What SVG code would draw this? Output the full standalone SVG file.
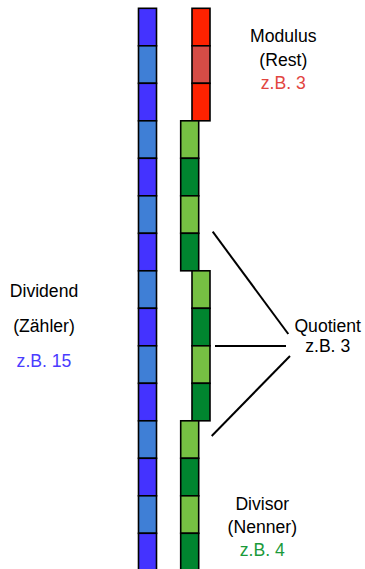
<svg xmlns="http://www.w3.org/2000/svg" width="365" height="569" viewBox="0 0 365 569">
<style>
.c{stroke:#000;stroke-width:1.6}
.b1{fill:#4433ff}.b2{fill:#3f7fd6}
.r1{fill:#ff2200}.r2{fill:#d64c46}
.g1{fill:#76c043}.g2{fill:#00852f}
text{font-family:"Liberation Sans",Arial,sans-serif;font-size:17.6px;text-anchor:middle;fill:#000}
.ln{stroke:#000;stroke-width:2;fill:none}
</style>
<rect width="365" height="569" fill="#fff"/>
<g id="dividend">
<rect class="c b1" x="138.5" y="8.3" width="18" height="37.5"/>
<rect class="c b2" x="138.5" y="45.8" width="18" height="37.5"/>
<rect class="c b1" x="138.5" y="83.3" width="18" height="37.5"/>
<rect class="c b2" x="138.5" y="120.8" width="18" height="37.5"/>
<rect class="c b1" x="138.5" y="158.3" width="18" height="37.5"/>
<rect class="c b2" x="138.5" y="195.8" width="18" height="37.5"/>
<rect class="c b1" x="138.5" y="233.3" width="18" height="37.5"/>
<rect class="c b2" x="138.5" y="270.8" width="18" height="37.5"/>
<rect class="c b1" x="138.5" y="308.3" width="18" height="37.5"/>
<rect class="c b2" x="138.5" y="345.8" width="18" height="37.5"/>
<rect class="c b1" x="138.5" y="383.3" width="18" height="37.5"/>
<rect class="c b2" x="138.5" y="420.8" width="18" height="37.5"/>
<rect class="c b1" x="138.5" y="458.3" width="18" height="37.5"/>
<rect class="c b2" x="138.5" y="495.8" width="18" height="37.5"/>
<rect class="c b1" x="138.5" y="533.3" width="18" height="37.5"/>
</g>
<g id="modulus">
<rect class="c r1" x="192" y="8.3" width="18" height="37.5"/>
<rect class="c r2" x="192" y="45.8" width="18" height="37.5"/>
<rect class="c r1" x="192" y="83.3" width="18" height="37.5"/>
</g>
<g id="divisor1">
<rect class="c g1" x="180.7" y="120.8" width="18" height="37.5"/>
<rect class="c g2" x="180.7" y="158.3" width="18" height="37.5"/>
<rect class="c g1" x="180.7" y="195.8" width="18" height="37.5"/>
<rect class="c g2" x="180.7" y="233.3" width="18" height="37.5"/>
</g>
<g id="divisor2">
<rect class="c g1" x="192" y="270.8" width="18" height="37.5"/>
<rect class="c g2" x="192" y="308.3" width="18" height="37.5"/>
<rect class="c g1" x="192" y="345.8" width="18" height="37.5"/>
<rect class="c g2" x="192" y="383.3" width="18" height="37.5"/>
</g>
<g id="divisor3">
<rect class="c g1" x="180.7" y="420.8" width="18" height="37.5"/>
<rect class="c g2" x="180.7" y="458.3" width="18" height="37.5"/>
<rect class="c g1" x="180.7" y="495.8" width="18" height="37.5"/>
<rect class="c g2" x="180.7" y="533.3" width="18" height="37.5"/>
</g>
<g id="connectors">
<line class="ln" x1="212.7" y1="231.7" x2="288.3" y2="334"/>
<line class="ln" x1="215" y1="346" x2="286" y2="346"/>
<line class="ln" x1="290" y1="356" x2="211.7" y2="436"/>
</g>
<g id="label-modulus">
<text x="283.3" y="42">Modulus</text>
<text x="283.3" y="65.5">(Rest)</text>
<text x="283.3" y="89" style="fill:#e2453f">z.B. 3</text>
</g>
<g id="label-dividend">
<text x="44" y="296.7">Dividend</text>
<text x="44" y="331.5">(Zähler)</text>
<text x="44" y="366.5" style="fill:#4a3cff">z.B. 15</text>
</g>
<g id="label-quotient">
<text x="327.7" y="332">Quotient</text>
<text x="327.7" y="352">z.B. 3</text>
</g>
<g id="label-divisor">
<text x="262.3" y="509.5">Divisor</text>
<text x="262.3" y="533">(Nenner)</text>
<text x="262.3" y="556" style="fill:#1a9a3a">z.B. 4</text>
</g>
</svg>
